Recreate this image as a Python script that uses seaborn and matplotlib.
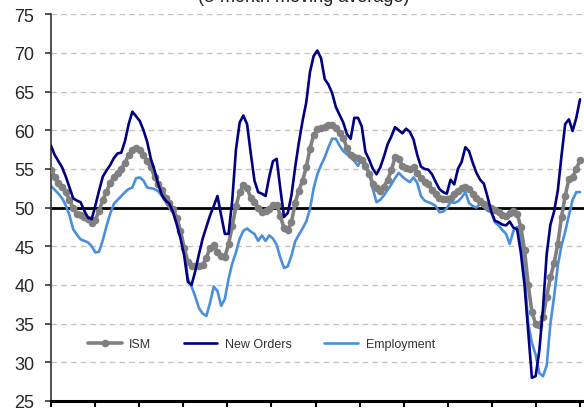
import numpy as np
import pandas as pd
import matplotlib
matplotlib.use("Agg")
import matplotlib.pyplot as plt
import seaborn as sns

title_text = "(3-month moving average)"
series_names = ["ISM", "New Orders", "Employment"]

ism = [54.8, 54.0, 53.2, 52.6, 52.0, 51.0, 49.9, 49.2, 49.0, 48.8, 48.5, 48.0,
       48.4, 49.6, 51.0, 52.0, 53.2, 54.0, 54.5, 55.0, 55.8, 56.8, 57.4, 57.7,
       57.5, 56.8, 56.0, 55.2, 54.0, 53.0, 52.3, 51.3, 50.6, 49.8, 48.7, 47.0,
       44.8, 43.0, 42.5, 42.5, 42.5, 42.6, 43.5, 44.8, 45.2, 44.2, 43.7, 43.6,
       45.3, 47.6, 50.2, 52.0, 52.9, 52.5, 51.3, 50.7, 50.0, 49.4, 49.6, 49.8,
       50.4, 50.4, 48.9, 47.3, 47.1, 48.1, 50.6, 52.2, 53.5, 55.2, 57.6, 59.4,
       60.1, 60.3, 60.4, 60.7, 60.7, 60.3, 59.6, 59.0, 57.7, 56.8, 56.6, 56.4,
       56.1, 55.4, 54.4, 53.1, 52.5, 52.2, 52.7, 53.6, 54.8, 56.5, 56.3, 55.4,
       55.1, 55.0, 55.2, 54.5, 53.8, 53.3, 53.0, 52.3, 51.8, 51.3, 51.1, 51.1,
       51.2, 51.7, 52.1, 52.5, 52.6, 52.4, 51.8, 51.2, 50.9, 50.5, 50.1, 50.0,
       49.7, 49.4, 49.1, 48.9, 49.3, 49.5, 49.2, 47.5, 44.5, 40.0, 36.5, 35.0,
       34.8, 35.8, 38.5, 41.0, 42.8, 45.3, 48.8, 51.5, 53.7, 53.9, 55.0, 56.1]

new_orders = [58.0, 56.8, 56.0, 55.2, 54.0, 52.6, 51.2, 50.9, 50.7, 49.6, 48.7, 48.5,
              50.3, 52.2, 54.0, 54.8, 55.5, 56.4, 57.0, 57.1, 58.6, 60.8, 62.4, 61.8,
              61.2, 60.0, 58.5, 56.3, 54.8, 53.0, 51.6, 50.9, 50.5, 49.4, 47.8, 46.0,
              43.8, 40.4, 40.0, 41.8, 44.0, 46.0, 47.5, 49.0, 50.2, 51.5, 49.0, 46.6,
              46.6, 51.0, 57.5, 61.0, 61.9, 60.8, 57.0, 53.5, 52.0, 51.8, 51.5, 54.0,
              56.0, 56.3, 52.4, 48.8, 49.3, 51.6, 55.2, 58.4, 61.2, 63.6, 67.5, 69.6,
              70.3, 69.3, 66.6, 65.9, 64.8, 63.0, 62.0, 61.0, 59.5, 58.9, 61.6, 61.6,
              60.5, 57.2, 56.2, 55.0, 54.3, 55.2, 56.6, 58.2, 59.2, 60.4, 60.0, 59.6,
              60.2, 59.8, 58.8, 56.8, 55.3, 55.0, 54.9, 54.3, 53.3, 52.4, 52.0, 51.8,
              53.6, 53.0, 55.0, 55.9, 57.8, 57.3, 55.8, 54.5, 53.6, 53.1, 51.4, 49.5,
              48.3, 48.1, 47.8, 47.7, 48.2, 47.4, 47.2, 44.2, 40.0, 34.0, 28.0, 28.2,
              31.5, 37.0, 44.0, 47.8, 49.5, 52.2, 56.7, 60.8, 61.4, 59.9, 61.6, 64.0]

employment = [52.8, 52.3, 51.8, 51.2, 50.3, 49.0, 47.2, 46.5, 45.9, 45.7, 45.5, 45.0,
              44.2, 44.3, 45.8, 47.6, 49.2, 50.5, 51.0, 51.5, 52.0, 52.4, 52.6, 53.8,
              53.9, 53.5, 52.6, 52.5, 52.4, 52.1, 51.5, 50.7, 50.0, 49.3, 48.8, 47.0,
              44.6, 40.8, 39.8, 38.5, 37.0, 36.3, 36.0, 37.7, 39.8, 39.2, 37.3, 38.2,
              40.8, 42.8, 44.2, 46.0, 47.0, 47.3, 46.9, 46.6, 45.7, 46.4, 45.7, 46.4,
              46.0, 45.2, 43.5, 42.2, 42.4, 43.8, 45.6, 46.5, 47.3, 48.2, 49.8, 52.5,
              54.3, 55.5, 56.5, 57.8, 58.9, 58.9, 58.0, 57.3, 56.9, 56.5, 56.0, 55.4,
              56.4, 55.8, 54.5, 52.4, 50.7, 51.0, 51.6, 52.3, 53.0, 53.8, 54.5, 54.0,
              53.6, 53.3, 53.9, 53.2, 51.5, 50.9, 50.7, 50.5, 50.2, 49.4, 49.5, 49.9,
              50.7, 50.6, 50.8, 51.3, 52.0, 50.6, 50.2, 50.0, 50.5, 50.1, 49.6, 49.4,
              48.1, 47.7, 47.1, 46.6, 45.3, 47.0, 47.5, 46.2, 41.5, 35.0, 32.5, 31.0,
              28.6, 28.2, 29.6, 35.0, 38.5, 42.5, 45.1, 46.9, 49.0, 51.0, 52.0, 52.0]

months = np.arange(len(ism))
df = pd.DataFrame({"month": months, "ISM": ism, "New Orders": new_orders,
                   "Employment": employment})

sns.set_theme(style="white")
plt.rcParams["font.family"] = ["Liberation Sans", "DejaVu Sans"]

fig = plt.figure(figsize=(5.84, 4.10), dpi=100)
ax = fig.add_axes([51 / 584, 8 / 410, 1 - 51 / 584, (402 - 15.2) / 410])

# grid
for v in range(30, 80, 5):
    if v != 50:
        ax.axhline(v, color="#c4c4c4", lw=1.0, ls=(0, (4, 3)), zorder=0)
ax.axhline(50, color="black", lw=2.0, zorder=1)

sns.lineplot(data=df, x="month", y="ISM", ax=ax, color="#808080", lw=2.6,
             marker="o", markersize=5.5, markeredgewidth=0, label="ISM", zorder=3)
sns.lineplot(data=df, x="month", y="New Orders", ax=ax, color="#000080", lw=1.9,
             label="New Orders", zorder=4)
sns.lineplot(data=df, x="month", y="Employment", ax=ax, color="#4a8fdc", lw=1.9,
             label="Employment", zorder=2)

n = len(ism)
ax.set_xlim(0, (n - 1) + 4 / ((529) / (n - 1)))
ax.set_ylim(25, 75)
ax.set_yticks(range(25, 80, 5))
ax.set_xticks(np.linspace(0, n - 1, 13))
ax.set_xticklabels([])
ax.set_xlabel("")
ax.set_ylabel("")
ax.tick_params(axis="y", direction="out", length=4, width=1.2, color="#333333",
               labelsize=13, pad=8, left=True)
ax.tick_params(axis="x", direction="out", length=4, width=1.5, color="black",
               bottom=True)
for s in ["top", "right"]:
    ax.spines[s].set_visible(False)
ax.spines["left"].set_color("#333333")
ax.spines["left"].set_linewidth(1.2)
ax.spines["bottom"].set_color("black")
ax.spines["bottom"].set_linewidth(2.2)
ax.grid(False)

leg = ax.legend(loc="center left", bbox_to_anchor=(0.069, 0.147), ncol=3,
                frameon=False, fontsize=9, handlelength=2.7, handletextpad=0.6,
                columnspacing=2.6, borderpad=0, borderaxespad=0)
for t in leg.get_texts():
    t.set_color("#333333")

fig.text(0.52, 1 - 2.5 / 410, title_text, ha="center", va="baseline", fontsize=13,
         color="#222222")

fig.savefig("out.png", dpi=100)
